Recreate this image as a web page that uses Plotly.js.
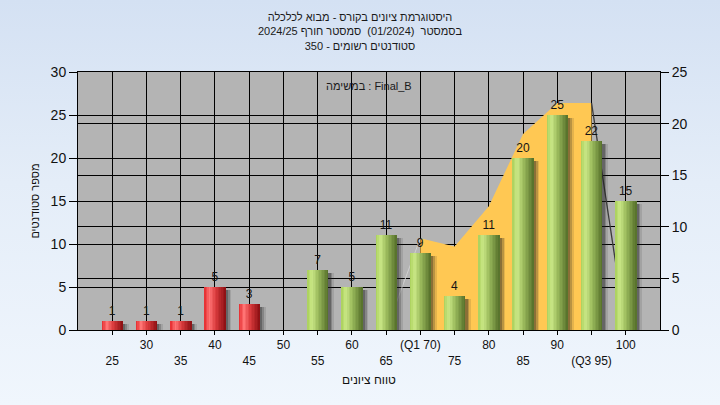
<!DOCTYPE html>
<html><head><meta charset="utf-8">
<script src="https://cdn.plot.ly/plotly-3.0.1.min.js"></script>
<style>
html,body{margin:0;padding:0;width:720px;height:405px;overflow:hidden;
background:linear-gradient(to bottom,#d4e1f3 0%,#e4edf8 45%,#f0f6fd 100%);}
#chart{width:720px;height:405px;}
</style></head><body><div id="chart"></div>
<script>
// ---- data ----
const scores = [25,30,35,40,45,50,55,60,65,70,75,80,85,90,95,100];
const counts = [1,1,1,5,3,0,7,5,11,9,4,11,20,25,22,15];
const tickLabels = ['25','30','35','40','45','50','55','60','65','(Q1 70)','75','80','85','90','(Q3 95)','100'];
const passScore = 55;
const curveX = [65,70,75,80,85,90,95,100];
const curveY = [0,8.9,8.1,12,19,22,22,0];
const titleLines = ['היסטוגרמת ציונים בקורס - מבוא לכלכלה','בסמסטר  (01/2024)  סמסטר חורף 2024/25','סטודנטים רשומים - 350'];
const noteText = 'במשימה : Final_B';
const xTitle = 'טווח ציונים';
const yTitle = 'מספר סטודנטים';

// ---- styling helpers ----
const W = 3.1, N = 14;
const greenStops = [[0,'#a9cf5a'],[0.22,'#cae886'],[0.5,'#9dbd5e'],[1,'#546e29']];
const redStops = [[0,'#e3282c'],[0.25,'#ff7474'],[0.55,'#d93a3c'],[1,'#8a0f12']];
function hex(c){return [1,3,5].map(i=>parseInt(c.slice(i,i+2),16));}
function grad(stops,t){
  for(let i=1;i<stops.length;i++){
    if(t<=stops[i][0]){
      const a=stops[i-1],b=stops[i],u=(t-a[0])/(b[0]-a[0]);
      const ca=hex(a[1]),cb=hex(b[1]);
      return 'rgb('+ca.map((v,k)=>Math.round(v+(cb[k]-v)*u)).join(',')+')';
    }
  }
  return stops[stops.length-1][1];
}
const idx = scores.map((s,i)=>i).filter(i=>counts[i]>0);
const groups = [
  {ids: idx.filter(i=>scores[i]<passScore), stops: redStops},
  {ids: idx.filter(i=>scores[i]>=passScore), stops: greenStops}
];

const traces = [];
// yellow area (right axis)
traces.push({type:'scatter',mode:'lines',x:curveX.slice(1,-1),y:curveY.slice(1,-1),
  fill:'tozeroy',fillcolor:'#ffc853',line:{width:0,color:'#ffc853'},xaxis:'x',yaxis:'y',hoverinfo:'skip'});
traces.push({type:'scatter',mode:'lines',x:curveX.slice(0,2),y:curveY.slice(0,2),
  line:{width:1,color:'#cfcfcf'},xaxis:'x',yaxis:'y',hoverinfo:'skip'});
traces.push({type:'scatter',mode:'lines',x:curveX.slice(-2),y:curveY.slice(-2),
  line:{width:1.3,color:'#3c3c3c'},xaxis:'x',yaxis:'y',hoverinfo:'skip'});

// shadows
const shadowShift=[0.35,0.6,0.85], shadowAlpha=[0.3,0.22,0.12];
shadowShift.forEach((s,k)=>{
  traces.push({type:'bar',x:idx.map(i=>scores[i]),y:idx.map(i=>counts[i]-0.35+0.6),base:-0.6,
    width:W,offset:-W/2+s,marker:{color:'rgba(30,30,30,'+shadowAlpha[k]+')',line:{width:0}},
    xaxis:'x',yaxis:'y2',cliponaxis:false,hoverinfo:'skip'});
});
// cylinder strips
groups.forEach(g=>{
  for(let k=0;k<N;k++){
    traces.push({type:'bar',x:g.ids.map(i=>scores[i]),y:g.ids.map(i=>counts[i]),
      width:W/N+0.03,offset:-W/2+k*W/N,
      marker:{color:grad(g.stops,(k+0.5)/N),line:{width:0}},
      xaxis:'x',yaxis:'y2',hoverinfo:'skip'});
  }
});
// value labels
traces.push({type:'bar',x:scores,y:counts,width:W,
  text:counts.map(c=>c>0?String(c):''),textposition:'outside',constraintext:'none',
  textfont:{size:12,color:'#141414',family:'Liberation Sans, Arial, sans-serif'},
  marker:{color:'rgba(0,0,0,0)',line:{width:0}},xaxis:'x',yaxis:'y2',cliponaxis:false,hoverinfo:'skip'});

const tickText = tickLabels.map((t,i)=> i%2===0 ? '\u00a0<br>'+t : t);
const font = 'Liberation Sans, Arial, sans-serif';
const layout = {
  width:720,height:405,
  margin:{l:78,r:60,t:72,b:75},
  paper_bgcolor:'rgba(0,0,0,0)',plot_bgcolor:'#b4b4b4',
  showlegend:false,hovermode:false,barmode:'overlay',bargap:0,
  font:{family:font,color:'#111'},
  title:{text:titleLines.join('<br>'),font:{size:11,color:'#1a1a1a',family:font},
    x:0.5,xanchor:'center',y:1-21/405,yanchor:'top',yref:'container'},
  xaxis:{range:[20,105],tickmode:'array',tickvals:scores,ticktext:tickText,
    tickfont:{size:12,color:'#111'},ticks:'outside',ticklen:4,tickcolor:'#000',
    showgrid:true,gridcolor:'#000',gridwidth:1,showline:true,linecolor:'#000',linewidth:1,mirror:true,
    zeroline:false,tickangle:0,fixedrange:true,
    title:{text:xTitle,font:{size:12,color:'#111'},standoff:8}},
  yaxis:{range:[0,25],dtick:5,side:'right',ticks:'outside',ticklen:8,tickcolor:'#000',
    tickfont:{size:14,color:'#111'},showgrid:true,gridcolor:'#000',gridwidth:1,
    showline:true,linecolor:'#000',linewidth:1,zeroline:false,fixedrange:true},
  yaxis2:{range:[0,30],dtick:5,side:'left',overlaying:'y',ticks:'outside',ticklen:8,tickcolor:'#000',
    tickfont:{size:14,color:'#111'},showgrid:true,gridcolor:'#000',gridwidth:1,
    showline:true,linecolor:'#000',linewidth:1,zeroline:false,fixedrange:true,
    title:{text:yTitle,font:{size:11,color:'#111'},standoff:8}},
  annotations:[{text:noteText,xref:'paper',yref:'paper',x:0.5,y:(330-86)/258,
    xanchor:'center',yanchor:'middle',showarrow:false,font:{size:11,color:'#1a1a1a',family:font}}]
};
Plotly.newPlot('chart',traces,layout,{displayModeBar:false,staticPlot:true});
</script></body></html>
